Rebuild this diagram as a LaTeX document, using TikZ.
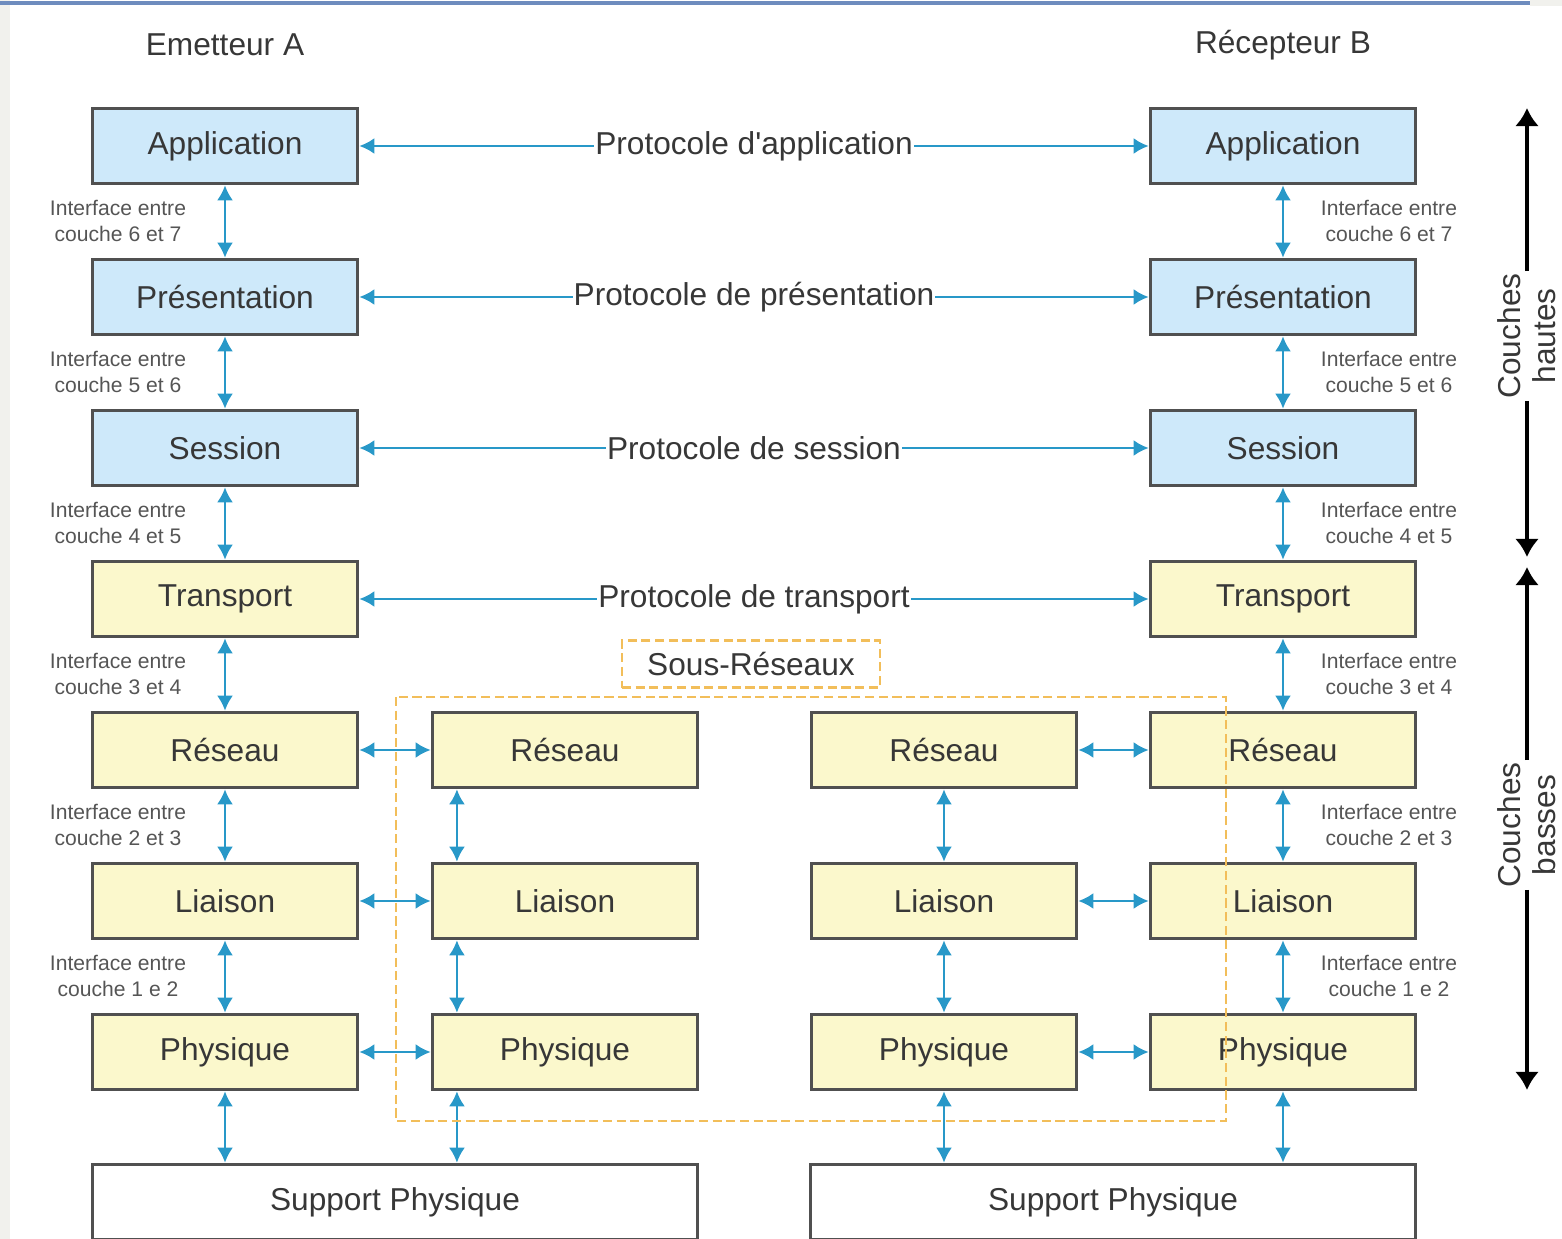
\documentclass[tikz,border=0pt]{standalone}
\usepackage{fontspec}
\setmainfont{Liberation Sans}
\usetikzlibrary{arrows.meta}
\definecolor{hautbleu}{RGB}{206,233,250}
\definecolor{basjaune}{RGB}{251,248,204}
\definecolor{filbleu}{RGB}{40,152,200}
\definecolor{tiretorange}{RGB}{242,190,90}
\definecolor{bord}{RGB}{80,80,80}
\definecolor{texte}{RGB}{55,55,55}
\definecolor{fond}{RGB}{241,241,237}
\definecolor{filet}{RGB}{110,140,190}

\begin{document}
\begin{tikzpicture}[x=0.01cm,y=-0.01cm,
  couche/.style={draw=bord,line width=1pt,minimum width=2.65cm,minimum height=0.75cm,inner sep=0pt,text=texte,font=\fontsize{9}{11}\selectfont},
  haute/.style={couche,fill=hautbleu},
  basse/.style={couche,fill=basjaune},
  support/.style={couche,fill=white,minimum width=6.05cm},
  lien/.style={filbleu,line width=0.7pt,{Latex[length=1.5mm,width=1.6mm]}-{Latex[length=1.5mm,width=1.6mm]}},
  protocole/.style={fill=white,inner sep=0.3pt,text=texte,font=\fontsize{9}{11}\selectfont},
  interface/.style={align=center,text=texte!85,font=\fontsize{6}{7.2}\selectfont},
  titre/.style={text=texte,font=\fontsize{9}{11}\selectfont},
  groupe/.style={align=center,rotate=90,inner sep=0.5pt,text=texte,font=\fontsize{9}{10}\selectfont},
  fleche/.style={black,line width=1.1pt,-{Latex[length=1.8mm,width=2.4mm]}},
  tirets/.style={tiretorange,line width=0.8pt,dash pattern=on 2.6pt off 1.3pt}]
\useasboundingbox (0,0) rectangle (1562,1239);
% fond de page
\fill[fond] (0,0) rectangle (10,1239);
\fill[fond] (1530,0) rectangle (1562,6);
\draw[filet,line width=1pt] (0,3) -- (1530,3);

% titres
\node[titre] (emA) at (225,45) {Emetteur A};
\node[titre] (recB) at (1283,45) {Récepteur B};

% pile de l'emetteur A
\node[haute] (appA) at (225,146) {Application};
\node[haute] (preA) at (225,297) {Présentation};
\node[haute] (sesA) at (225,448) {Session};
\node[basse] (traA) at (225,599) {Transport};
\node[basse] (resA) at (225,750) {Réseau};
\node[basse] (liaA) at (225,901) {Liaison};
\node[basse] (phyA) at (225,1052) {Physique};

% pile du recepteur B
\node[haute] (appB) at (1283,146) {Application};
\node[haute] (preB) at (1283,297) {Présentation};
\node[haute] (sesB) at (1283,448) {Session};
\node[basse] (traB) at (1283,599) {Transport};
\node[basse] (resB) at (1283,750) {Réseau};
\node[basse] (liaB) at (1283,901) {Liaison};
\node[basse] (phyB) at (1283,1052) {Physique};

% relais des sous-reseaux
\node[basse] (resM1) at (565,750) {Réseau};
\node[basse] (liaM1) at (565,901) {Liaison};
\node[basse] (phyM1) at (565,1052) {Physique};
\node[basse] (resM2) at (944,750) {Réseau};
\node[basse] (liaM2) at (944,901) {Liaison};
\node[basse] (phyM2) at (944,1052) {Physique};

% supports
\node[support] (supA) at (395,1202) {Support Physique};
\node[support] (supB) at (1113,1202) {Support Physique};

% interfaces
\node[interface] (i67A) at (118,221) {Interface entre\\couche 6 et 7};
\node[interface] (i56A) at (118,372) {Interface entre\\couche 5 et 6};
\node[interface] (i45A) at (118,523) {Interface entre\\couche 4 et 5};
\node[interface] (i34A) at (118,674) {Interface entre\\couche 3 et 4};
\node[interface] (i23A) at (118,825) {Interface entre\\couche 2 et 3};
\node[interface] (i12A) at (118,976) {Interface entre\\couche 1 e 2};
\node[interface] (i67B) at (1389,221) {Interface entre\\couche 6 et 7};
\node[interface] (i56B) at (1389,372) {Interface entre\\couche 5 et 6};
\node[interface] (i45B) at (1389,523) {Interface entre\\couche 4 et 5};
\node[interface] (i34B) at (1389,674) {Interface entre\\couche 3 et 4};
\node[interface] (i23B) at (1389,825) {Interface entre\\couche 2 et 3};
\node[interface] (i12B) at (1389,976) {Interface entre\\couche 1 e 2};

% liens verticaux
\draw[lien] (appA) -- (preA);
\draw[lien] (preA) -- (sesA);
\draw[lien] (sesA) -- (traA);
\draw[lien] (traA) -- (resA);
\draw[lien] (resA) -- (liaA);
\draw[lien] (liaA) -- (phyA);
\draw[lien] (phyA) -- (phyA |- supA.north);
\draw[lien] (appB) -- (preB);
\draw[lien] (preB) -- (sesB);
\draw[lien] (sesB) -- (traB);
\draw[lien] (traB) -- (resB);
\draw[lien] (resB) -- (liaB);
\draw[lien] (liaB) -- (phyB);
\draw[lien] (phyB) -- (phyB |- supB.north);
\coordinate (r1) at ([xshift=-1.08cm]resM1.south);
\coordinate (l1) at ([xshift=-1.08cm]liaM1.north);
\coordinate (l1b) at ([xshift=-1.08cm]liaM1.south);
\coordinate (p1) at ([xshift=-1.08cm]phyM1.north);
\coordinate (p1b) at ([xshift=-1.08cm]phyM1.south);
\draw[lien] (r1) -- (l1);
\draw[lien] (l1b) -- (p1);
\draw[lien] (p1b) -- (p1b |- supA.north);
\draw[lien] (resM2) -- (liaM2);
\draw[lien] (liaM2) -- (phyM2);
\draw[lien] (phyM2) -- (phyM2 |- supB.north);

% protocoles
\draw[lien] (appA) -- node[protocole] (pApp) {Protocole d\textquotesingle application} (appB);
\draw[lien] (preA) -- node[protocole] (pPre) {Protocole de présentation} (preB);
\draw[lien] (sesA) -- node[protocole] (pSes) {Protocole de session} (sesB);
\draw[lien] (traA) -- node[protocole] (pTra) {Protocole de transport} (traB);

% liens horizontaux
\draw[lien] (resA) -- (resM1);
\draw[lien] (liaA) -- (liaM1);
\draw[lien] (phyA) -- (phyM1);
\draw[lien] (resM2) -- (resB);
\draw[lien] (liaM2) -- (liaB);
\draw[lien] (phyM2) -- (phyB);

% sous-reseaux
\draw[tirets] (396,697) rectangle (1226,1121);
\node[tirets,draw,minimum width=2.58cm,minimum height=0.4cm,text=texte,font=\fontsize{9}{11}\selectfont] (sr) at (751,664) {Sous-Réseaux};

% couches hautes / basses
\node[groupe] (ch) at (1527,336) {Couches\\hautes};
\node[groupe] (cb) at (1527,825) {Couches\\basses};
\coordinate (chHaut) at (1527,108);
\coordinate (chBas) at (1527,557);
\coordinate (cbHaut) at (1527,567);
\coordinate (cbBas) at (1527,1090);
\draw[fleche] (ch.east) -- (chHaut);
\draw[fleche] (ch.west) -- (chBas);
\draw[fleche] (cb.east) -- (cbHaut);
\draw[fleche] (cb.west) -- (cbBas);
\end{tikzpicture}
\end{document}
